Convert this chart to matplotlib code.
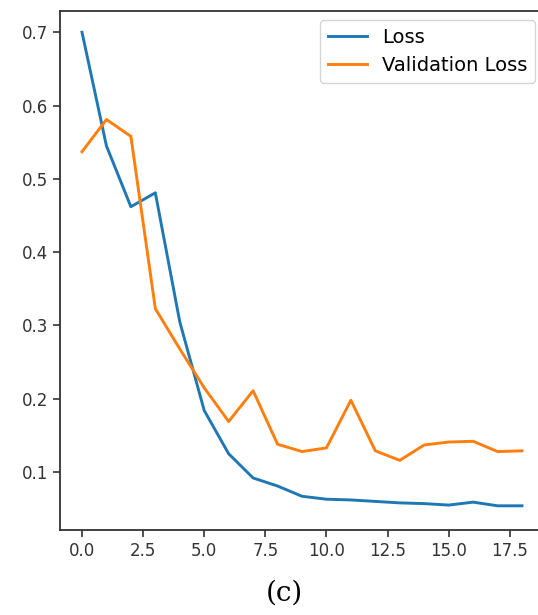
import matplotlib
matplotlib.use("Agg")
import matplotlib.pyplot as plt

epochs = list(range(19))
loss = [0.700, 0.545, 0.462, 0.481, 0.305, 0.184, 0.125, 0.092, 0.081, 0.067,
        0.063, 0.062, 0.060, 0.058, 0.057, 0.055, 0.059, 0.054, 0.054]
val_loss = [0.537, 0.581, 0.558, 0.323, 0.268, 0.215, 0.169, 0.211, 0.138, 0.128,
            0.133, 0.198, 0.129, 0.116, 0.137, 0.141, 0.142, 0.128, 0.129]

W, H = 538, 615
fig = plt.figure(figsize=(W / 100, H / 100), dpi=100)
# axes runs past the right edge, as in the cropped original
ax = fig.add_axes([60 / W, (H - 530) / H, (544 - 60) / W, (530 - 11) / H])

ax.plot(epochs, loss, color="#1f77b4", lw=2.1, label="Loss")
ax.plot(epochs, val_loss, color="#ff7f0e", lw=2.1, label="Validation Loss")

ax.set_xlim(-0.9, 18.9)
ax.set_ylim(0.021, 0.729)
ax.set_xticks([0, 2.5, 5, 7.5, 10, 12.5, 15, 17.5])
ax.set_yticks([0.1, 0.2, 0.3, 0.4, 0.5, 0.6, 0.7])
ax.tick_params(labelsize=12, length=5, width=1.2, colors="#333333")
for s in ax.spines.values():
    s.set_linewidth(1.3)
    s.set_color("#333333")

ax.legend(loc="upper right", fontsize=14, borderaxespad=0.45)

fig.text(284 / W, 1 - 593 / H, "(c)", ha="center", va="center",
         fontsize=20, family="DejaVu Serif")

fig.savefig("out.png", dpi=100)
